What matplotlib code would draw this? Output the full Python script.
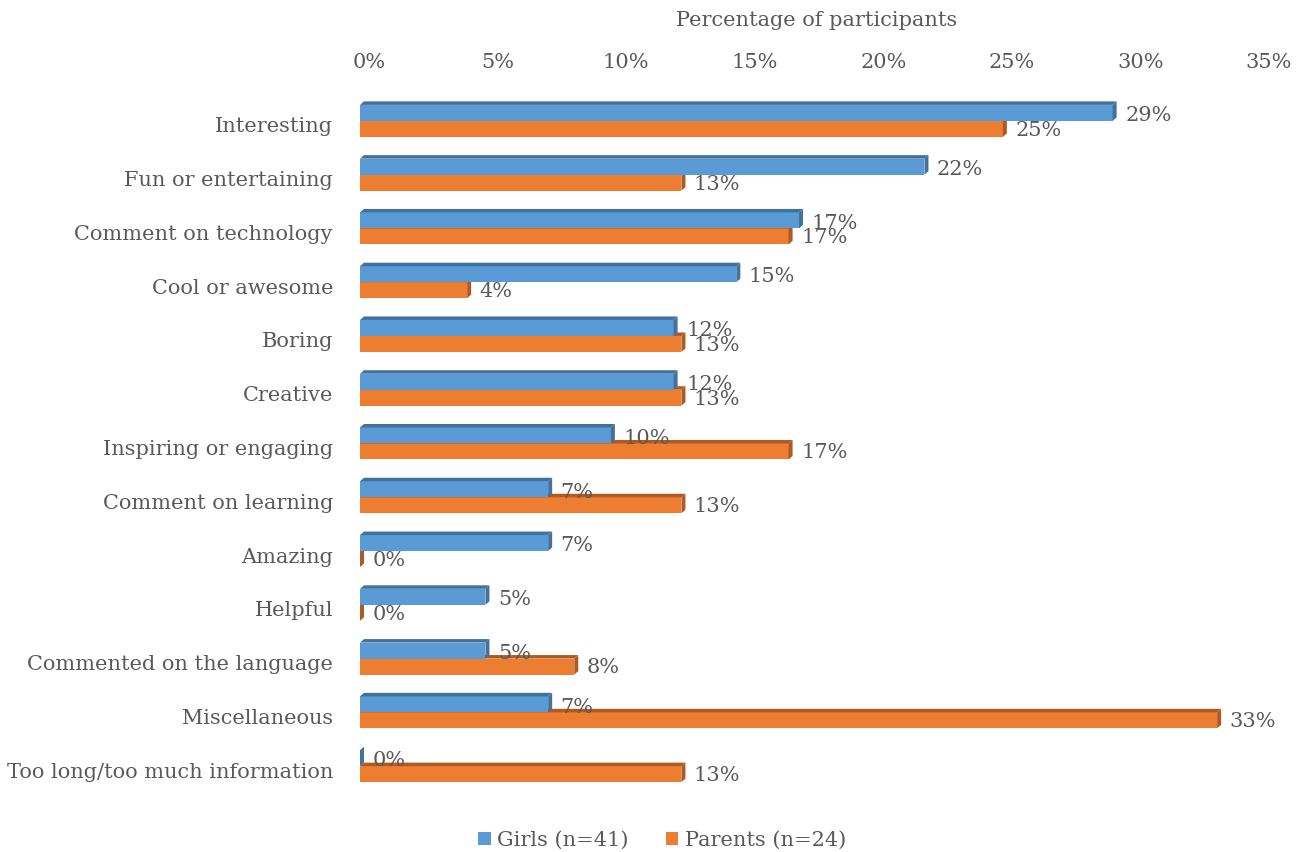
import matplotlib
matplotlib.use("Agg")
import matplotlib.pyplot as plt
from matplotlib.patches import Polygon, Patch
from matplotlib.transforms import ScaledTranslation, blended_transform_factory

plt.rcParams["font.family"] = ["DejaVu Serif"]

# ── data ────────────────────────────────────────────────────────────────
categories = [
    "Interesting", "Fun or entertaining", "Comment on technology",
    "Cool or awesome", "Boring", "Creative", "Inspiring or engaging",
    "Comment on learning", "Amazing", "Helpful",
    "Commented on the language", "Miscellaneous",
    "Too long/too much information",
]
girls_counts = [12, 9, 7, 6, 5, 5, 4, 3, 3, 2, 2, 3, 0]      # n = 41
parents_counts = [6, 3, 4, 1, 3, 3, 4, 3, 0, 0, 2, 8, 3]     # n = 24
girls_n, parents_n = 41, 24
girls_pct = [100 * c / girls_n for c in girls_counts]
parents_pct = [100 * c / parents_n for c in parents_counts]

x_ticks = [0, 5, 10, 15, 20, 25, 30, 35]
series_labels = ["Girls (n=41)", "Parents (n=24)"]

BLUE, BLUE_DARK = "#5B9BD5", "#41719C"
ORANGE, ORANGE_DARK = "#ED7D31", "#AE5A21"
GREY = "#595959"
FS = 15

W, H, DPI = 1299, 852, 100
fig = plt.figure(figsize=(W / DPI, H / DPI), dpi=DPI)
ax_l, ax_r, ax_t, ax_b = 360, 1260, 94, 793
ax = fig.add_axes([ax_l / W, (H - ax_b) / H, (ax_r - ax_l) / W, (ax_b - ax_t) / H])
ax.set_xlim(0, 35)
ax.set_ylim(len(categories) - 0.5, -0.5)
ax.axis("off")

# pseudo-3D depth, in data units
px_x = (ax_r - ax_l) / 35
px_y = (ax_b - ax_t) / len(categories)
dx, dy = 4 / px_x, 3.5 / px_y
h = 16 / px_y


def pct(v):
    # Excel style rounding (half up)
    return f"{int(v + 0.5)}%"


def bar3d(y0, y1, v, face, dark, z=2):
    ax.add_patch(Polygon([(0, y0), (v, y0), (v, y1), (0, y1)], closed=True,
                         fc=face, ec="none", zorder=z))
    ax.add_patch(Polygon([(v, y0), (v + dx, y0 - dy), (v + dx, y1 - dy), (v, y1)],
                         closed=True, fc=dark, ec="none", zorder=z))
    ax.add_patch(Polygon([(0, y0), (v, y0), (v + dx, y0 - dy), (dx, y0 - dy)],
                         closed=True, fc=dark, ec="none", zorder=z))


for i, (g, p) in enumerate(zip(girls_pct, parents_pct)):
    bar3d(i, i + h, p, ORANGE, ORANGE_DARK, z=2)
    bar3d(i - h, i, g, BLUE, BLUE_DARK, z=3)
    ax.annotate(pct(g), (g, i - h / 2), xytext=(9, -2), textcoords="offset points",
                ha="left", va="center", fontsize=FS, color=GREY, zorder=5)
    ax.annotate(pct(p), (p, i + h / 2), xytext=(9, -1), textcoords="offset points",
                ha="left", va="center", fontsize=FS, color=GREY, zorder=5)

# category labels
shift = ScaledTranslation(0, -6 / DPI, fig.dpi_scale_trans)
ytr = blended_transform_factory(ax.transAxes, ax.transData)
for i, name in enumerate(categories):
    ax.text(-27 / (ax_r - ax_l), i, name, transform=ytr + shift,
            ha="right", va="center", fontsize=FS, color=GREY)

# value axis at top
xtr = blended_transform_factory(ax.transData, ax.transAxes)
tick_shift = ScaledTranslation(9 / DPI, 0, fig.dpi_scale_trans)
for t in x_ticks:
    ax.text(t, 1 + 32 / (ax_b - ax_t), f"{t}%", transform=xtr + tick_shift,
            ha="center", va="center", fontsize=FS, color=GREY)
fig.text(817 / W, 1 - 20 / H, "Percentage of participants",
         ha="center", va="center", fontsize=FS, color=GREY)

handles = [Patch(fc=BLUE, ec="none"), Patch(fc=ORANGE, ec="none")]
fig.legend(handles, series_labels, loc="center", bbox_to_anchor=(662 / W, 1 - 840 / H),
           ncol=2, frameon=False, fontsize=FS, labelcolor=GREY,
           handlelength=0.6, handleheight=0.6, handletextpad=0.3, columnspacing=1.8)

fig.savefig("out.png", dpi=DPI)
